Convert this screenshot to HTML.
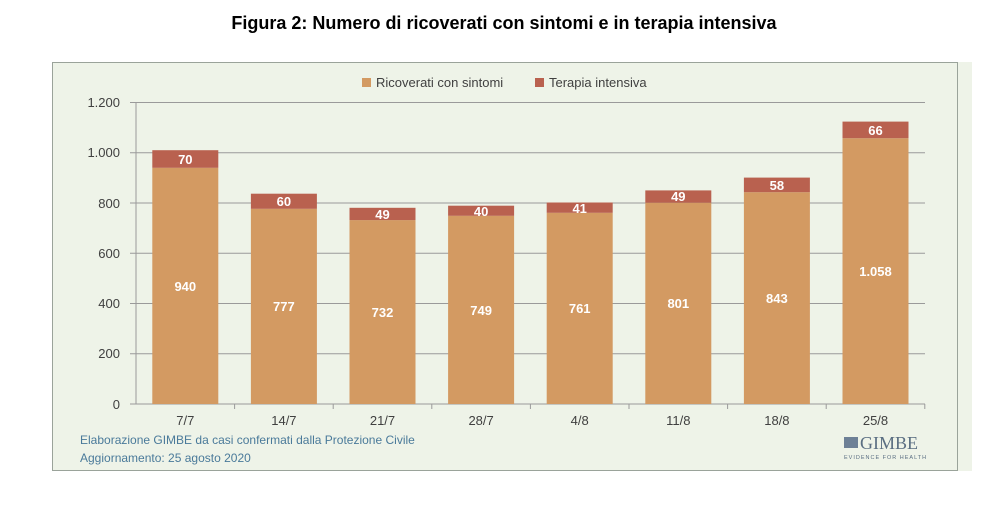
<!DOCTYPE html>
<html><head><meta charset="utf-8"><style>
body{margin:0;background:#fff;width:1008px;height:508px;overflow:hidden;font-family:"Liberation Sans",sans-serif}
</style></head><body>
<svg width="1008" height="508" xmlns="http://www.w3.org/2000/svg" font-family="Liberation Sans, sans-serif">
<text x="504" y="29" text-anchor="middle" font-size="18" font-weight="bold" fill="#000">Figura 2: Numero di ricoverati con sintomi e in terapia intensiva</text>
<rect x="52" y="62" width="920" height="409" fill="#EEF3E8"/>
<rect x="52.5" y="62.5" width="905" height="408" fill="none" stroke="#9aa39a" stroke-width="1"/>
<g stroke="#9a9a9a" stroke-width="1">
<line x1="130" x2="925" y1="102.5" y2="102.5"/>
<line x1="130" x2="925" y1="152.75" y2="152.75"/>
<line x1="130" x2="925" y1="203" y2="203"/>
<line x1="130" x2="925" y1="253.25" y2="253.25"/>
<line x1="130" x2="925" y1="303.5" y2="303.5"/>
<line x1="130" x2="925" y1="353.75" y2="353.75"/>
<line x1="130" x2="925" y1="404" y2="404"/>
<line x1="136" x2="136" y1="102.5" y2="404"/>
<line x1="234.6" x2="234.6" y1="404" y2="409"/><line x1="333.2" x2="333.2" y1="404" y2="409"/>
<line x1="431.8" x2="431.8" y1="404" y2="409"/><line x1="530.4" x2="530.4" y1="404" y2="409"/>
<line x1="629" x2="629" y1="404" y2="409"/><line x1="727.6" x2="727.6" y1="404" y2="409"/>
<line x1="826.2" x2="826.2" y1="404" y2="409"/><line x1="924.8" x2="924.8" y1="404" y2="409"/>
</g>
<g font-size="13" fill="#404040" text-anchor="end">
<text x="120" y="107">1.200</text><text x="120" y="157">1.000</text><text x="120" y="208">800</text>
<text x="120" y="258">600</text><text x="120" y="308">400</text><text x="120" y="358">200</text><text x="120" y="409">0</text>
</g>
<rect x="362" y="78" width="9" height="9" fill="#D39A62"/>
<text x="376" y="87" font-size="13" fill="#404040">Ricoverati con sintomi</text>
<rect x="535" y="78" width="9" height="9" fill="#B9614F"/>
<text x="549" y="87" font-size="13" fill="#404040">Terapia intensiva</text>
<g fill="#D39A62">
<rect x="152.3" y="167.8" width="66" height="236.2"/>
<rect x="250.9" y="208.8" width="66" height="195.2"/>
<rect x="349.5" y="220.1" width="66" height="183.9"/>
<rect x="448.1" y="215.8" width="66" height="188.2"/>
<rect x="546.7" y="212.8" width="66" height="191.2"/>
<rect x="645.3" y="202.7" width="66" height="201.3"/>
<rect x="743.9" y="192.2" width="66" height="211.8"/>
<rect x="842.5" y="138.2" width="66" height="265.8"/>
</g>
<g fill="#B9614F">
<rect x="152.3" y="150.2" width="66" height="17.6"/>
<rect x="250.9" y="193.7" width="66" height="15.1"/>
<rect x="349.5" y="207.8" width="66" height="12.3"/>
<rect x="448.1" y="205.7" width="66" height="10.1"/>
<rect x="546.7" y="202.5" width="66" height="10.3"/>
<rect x="645.3" y="190.4" width="66" height="12.3"/>
<rect x="743.9" y="177.6" width="66" height="14.6"/>
<rect x="842.5" y="121.6" width="66" height="16.6"/>
</g>
<g font-size="13" font-weight="bold" fill="#fff" text-anchor="middle">
<text x="185.3" y="291">940</text><text x="185.3" y="164">70</text>
<text x="283.9" y="311">777</text><text x="283.9" y="206">60</text>
<text x="382.5" y="317">732</text><text x="382.5" y="219">49</text>
<text x="481.1" y="315">749</text><text x="481.1" y="216">40</text>
<text x="579.7" y="313">761</text><text x="579.7" y="213">41</text>
<text x="678.3" y="308">801</text><text x="678.3" y="201">49</text>
<text x="776.9" y="303">843</text><text x="776.9" y="190">58</text>
<text x="875.5" y="276">1.058</text><text x="875.5" y="135">66</text>
</g>
<g font-size="13" fill="#404040" text-anchor="middle">
<text x="185.3" y="425">7/7</text><text x="283.9" y="425">14/7</text><text x="382.5" y="425">21/7</text>
<text x="481.1" y="425">28/7</text><text x="579.7" y="425">4/8</text><text x="678.3" y="425">11/8</text>
<text x="776.9" y="425">18/8</text><text x="875.5" y="425">25/8</text>
</g>
<text x="80" y="444" font-size="12" fill="#4a7a9a">Elaborazione GIMBE da casi confermati dalla Protezione Civile</text>
<text x="80" y="462" font-size="12" fill="#4a7a9a">Aggiornamento: 25 agosto 2020</text>
<g fill="#5a6e82">
<rect x="844" y="437" width="14" height="11" fill="#6d8096"/>
<text x="860" y="449" font-family="Liberation Serif, serif" font-size="18">GIMBE</text>
<text x="844" y="459" font-size="5.5" letter-spacing="1">EVIDENCE FOR HEALTH</text>
</g>
</svg>
</body></html>
